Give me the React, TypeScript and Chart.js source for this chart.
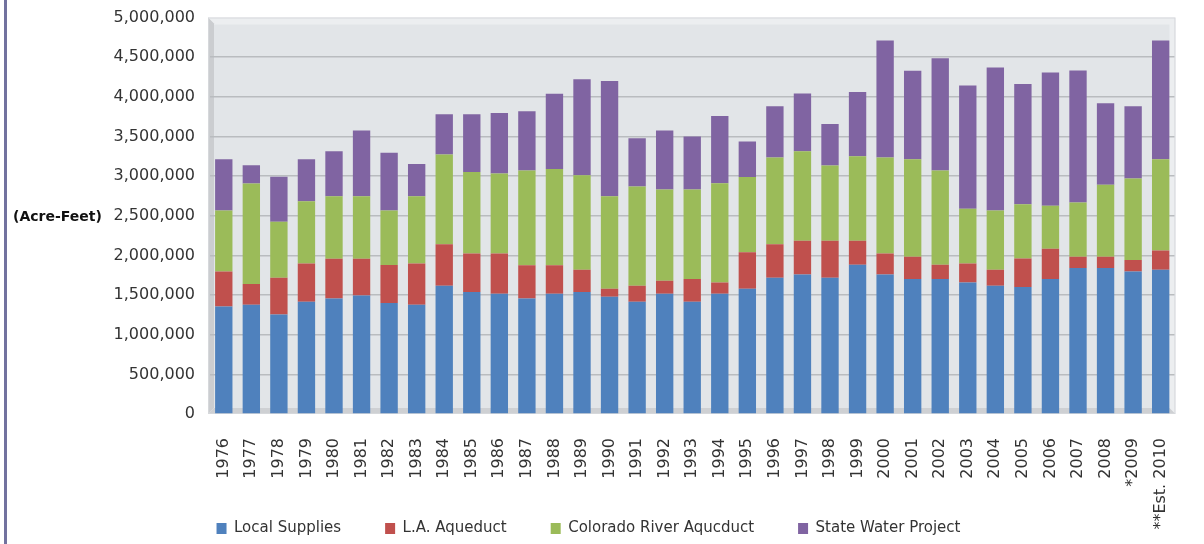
import React, { useEffect, useRef } from "react";
import { Chart, registerables } from "chart.js";

Chart.register(...registerables);

const years = [
  "1976", "1977", "1978", "1979", "1980", "1981", "1982", "1983", "1984", "1985",
  "1986", "1987", "1988", "1989", "1990", "1991", "1992", "1993", "1994", "1995",
  "1996", "1997", "1998", "1999", "2000", "2001", "2002", "2003", "2004", "2005",
  "2006", "2007", "2008", "*2009", "**Est. 2010",
];

const localSupplies = [
  1355000, 1378000, 1256000, 1415000, 1457000, 1495000, 1399000, 1378000, 1617000, 1537000,
  1516000, 1457000, 1516000, 1537000, 1478000, 1415000, 1516000, 1415000, 1516000, 1579000,
  1718000, 1760000, 1718000, 1882000, 1760000, 1701000, 1701000, 1659000, 1617000, 1600000,
  1701000, 1840000, 1840000, 1798000, 1819000,
];

const laAqueduct = [
  441000, 260000, 462000, 483000, 500000, 462000, 479000, 521000, 525000, 487000,
  508000, 420000, 361000, 281000, 101000, 202000, 164000, 286000, 143000, 462000,
  424000, 424000, 466000, 302000, 265000, 281000, 181000, 239000, 202000, 361000,
  382000, 143000, 143000, 143000, 244000,
];

const coloradoRiver = [
  769000, 1268000, 706000, 785000, 790000, 790000, 689000, 848000, 1130000, 1029000,
  1008000, 1193000, 1214000, 1193000, 1168000, 1252000, 1151000, 1130000, 1252000, 949000,
  1092000, 1130000, 949000, 1067000, 1210000, 1231000, 1189000, 689000, 748000, 685000,
  542000, 685000, 907000, 1029000, 1151000,
];

const stateWaterProject = [
  647000, 231000, 567000, 529000, 567000, 827000, 727000, 407000, 508000, 727000,
  764000, 748000, 949000, 1210000, 1453000, 609000, 743000, 668000, 848000, 445000,
  647000, 727000, 525000, 811000, 1474000, 1117000, 1415000, 1554000, 1802000, 1516000,
  1680000, 1663000, 1029000, 911000, 1495000,
];

const seriesNames = ["Local Supplies", "L.A. Aqueduct", "Colorado River Aqucduct", "State Water Project"];
const seriesColors = ["#4F81BD", "#C0504D", "#9BBB59", "#8064A2"];
const yTitle = "(Acre-Feet)";

const wallPlugin = {
  id: "wallPlugin",
  afterLayout(chart: any) {
    const lg = chart.legend;
    if (lg) {
      lg.left -= 9;
      lg.right -= 9;
      lg.top += 2;
      lg.bottom += 2;
    }
  },
  beforeDraw(chart: any) {
    const { ctx, chartArea: a } = chart;
    ctx.save();
    ctx.fillStyle = "#72729f";
    ctx.fillRect(4, 0, 3, chart.height);
    const L = a.left - 2, R = a.right + 1, T = a.top, B = a.bottom;
    const d = 6;
    ctx.fillStyle = "#eceef0";
    ctx.fillRect(L, T, R - L, B - T);
    ctx.fillStyle = "#e2e5e8";
    ctx.fillRect(L + d, T + d + 1, R - L - 2 * d, B - T - 2 * d - 1);
    ctx.fillStyle = "#cbcdd0";
    ctx.beginPath();
    ctx.moveTo(L, T); ctx.lineTo(L + d, T + d); ctx.lineTo(L + d, B - d); ctx.lineTo(L, B);
    ctx.closePath(); ctx.fill();
    ctx.fillStyle = "#ced0d3";
    ctx.beginPath();
    ctx.moveTo(L, B); ctx.lineTo(L + d, B - d); ctx.lineTo(R - d, B - d); ctx.lineTo(R, B);
    ctx.closePath(); ctx.fill();
    ctx.strokeStyle = "#d6d8db";
    ctx.lineWidth = 1;
    ctx.strokeRect(L + 0.5, T + 0.5, R - L - 1, B - T - 1);
    ctx.restore();
  },
  afterDraw(chart: any) {
    const { ctx } = chart;
    const y = chart.scales.y.getPixelForValue(2500000) + 2;
    ctx.save();
    ctx.font = 'bold 14px "DejaVu Sans"';
    ctx.fillStyle = "#111";
    ctx.textAlign = "left";
    ctx.textBaseline = "middle";
    ctx.fillText(yTitle, 13, y);
    ctx.restore();
  },
};

export default function App() {
  const ref = useRef<HTMLCanvasElement | null>(null);
  useEffect(() => {
    if (!ref.current) return;
    const data = [localSupplies, laAqueduct, coloradoRiver, stateWaterProject];
    const chart = new Chart(ref.current, {
      type: "bar",
      data: {
        labels: years,
        datasets: data.map((d, i) => ({
          label: seriesNames[i],
          data: d,
          backgroundColor: seriesColors[i],
          borderWidth: 0,
          categoryPercentage: 1,
          barPercentage: 0.63,
        })),
      },
      options: {
        animation: false,
        responsive: false,
        maintainAspectRatio: false,
        layout: { padding: { top: 0, right: 9, left: 0, bottom: 0 } },
        plugins: {
          tooltip: { enabled: false },
          legend: {
            position: "bottom",
            labels: {
              boxWidth: 10,
              boxHeight: 11,
              padding: 44,
              color: "#333",
              font: { family: '"DejaVu Sans"', size: 15 },
            },
          },
        },
        scales: {
          x: {
            stacked: true,
            grid: { display: false, drawTicks: false },
            border: { display: false },
            ticks: {
              autoSkip: false,
              minRotation: 90,
              maxRotation: 90,
              padding: 24,
              color: "#333",
              font: { family: '"DejaVu Sans"', size: 16 },
            },
            afterFit(scale: any) {
              scale.height = 61;
              scale._computeLabelArea = () => undefined;
            },
          },
          y: {
            stacked: true,
            min: 0,
            max: 5000000,
            border: { display: false },
            grid: {
              drawTicks: false,
              lineWidth: 1.5,
              color: (c: any) =>
                c.tick && (c.tick.value === 0 || c.tick.value === 5000000) ? "rgba(0,0,0,0)" : "#b9bcbf",
            },
            ticks: {
              stepSize: 500000,
              padding: 15,
              color: "#333",
              font: { family: '"DejaVu Sans"', size: 16 },
              callback: (v: any) => Number(v).toLocaleString("en-US"),
            },
            afterFit(scale: any) {
              scale.width = 210;
              scale.paddingTop = 17.5;
              scale.paddingBottom = 0;
            },
          },
        },
      },
      plugins: [wallPlugin],
    });
    return () => chart.destroy();
  }, []);
  return (
    <div style={{ position: "absolute", left: 0, top: 0, width: 1204, height: 544 }}>
      <canvas ref={ref} width={1204} height={544} />
    </div>
  );
}
